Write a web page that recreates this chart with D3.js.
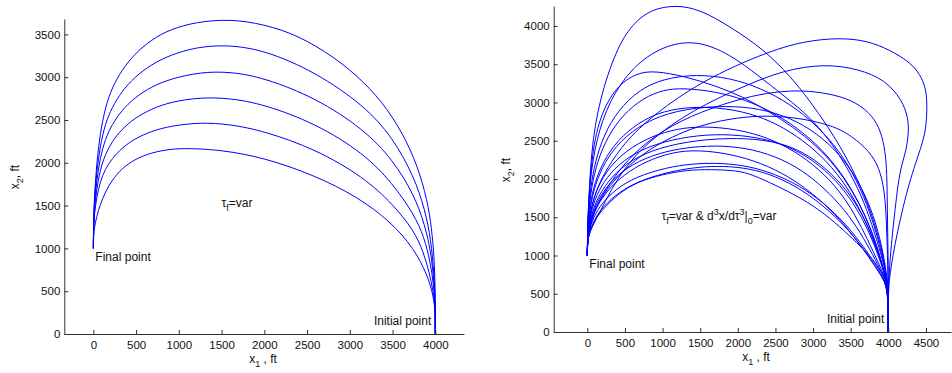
<!DOCTYPE html>
<html>
<head>
<meta charset="utf-8">
<script src="https://cdn.jsdelivr.net/npm/d3@7"></script>
<style>
  body { margin: 0; background: #fff; }
  svg { display: block; font-family: "Liberation Sans", Arial, sans-serif; }
  .tick text { font-size: 11.5px; fill: #111; }
  .lbl { font-size: 12px; fill: #111; }
</style>
</head>
<body>
<svg id="chart" width="952" height="373"></svg>
<script>
// tick values
const leftXTicks = [0, 500, 1000, 1500, 2000, 2500, 3000, 3500, 4000];
const leftYTicks = [0, 500, 1000, 1500, 2000, 2500, 3000, 3500];
const rightXTicks = [0, 500, 1000, 1500, 2000, 2500, 3000, 3500, 4000, 4500];
const rightYTicks = [0, 500, 1000, 1500, 2000, 2500, 3000, 3500, 4000];

// left panel: tau_f = var, six trajectories [x1, x2] in ft (final point -> initial point)
const leftCurve1 = [[0,1000],[2,1300],[14,1650],[40,2000],[80,2350],[140,2650],[220,2880],[330,3080],[480,3270],[680,3440],[900,3560],[1200,3645],[1600,3680],[1996,3618],[2386,3493],[2815,3240],[3166,2947],[3439,2637],[3673,2247],[3829,1857],[3926,1468],[3965,1157],[3993,806],[4000,420],[4000,0]];
const leftCurve2 = [[0,1000],[2,1300],[14,1600],[40,1900],[80,2200],[140,2460],[220,2650],[330,2830],[480,3000],[680,3150],[900,3260],[1200,3350],[1550,3380],[1996,3320],[2600,3060],[3166,2670],[3500,2300],[3751,1840],[3880,1450],[3950,1100],[3985,700],[4000,380],[4000,0]];
const leftCurve3 = [[0,1000],[2,1280],[14,1540],[40,1800],[80,2060],[140,2280],[220,2450],[330,2610],[480,2760],[680,2890],[900,2980],[1250,3060],[1600,3065],[1996,2994],[2600,2760],[3166,2390],[3500,2040],[3751,1630],[3880,1270],[3950,950],[3985,620],[4000,350],[4000,0]];
const leftCurve4 = [[0,1000],[2,1260],[14,1480],[40,1700],[80,1920],[140,2100],[220,2250],[330,2390],[480,2520],[680,2630],[900,2710],[1250,2765],[1600,2755],[1996,2683],[2600,2460],[3166,2110],[3500,1760],[3751,1400],[3870,1130],[3940,850],[3980,580],[4000,330],[4000,0]];
const leftCurve5 = [[0,1000],[2,1240],[14,1420],[40,1600],[80,1780],[140,1930],[220,2050],[330,2170],[480,2280],[680,2370],[900,2430],[1256,2473],[1600,2450],[1996,2371],[2600,2160],[3166,1830],[3500,1520],[3751,1210],[3860,960],[3930,720],[3975,500],[4000,310],[4000,0]];
const leftCurve6 = [[0,1000],[3,1200],[40,1380],[80,1510],[140,1660],[220,1800],[330,1930],[480,2040],[680,2120],[900,2160],[1099,2170],[1500,2150],[1996,2060],[2581,1857],[3089,1604],[3478,1312],[3751,1001],[3906,689],[3965,494],[4000,300],[4000,0]];

// right panel: tau_f = var & d3x/dtau3|0 = var
const rightCurve1 = [[0,1000],[3,1300],[10,1500],[49,2380],[159,3030],[381,3690],[600,4030],[850,4220],[1180,4275],[1500,4215],[1900,3990],[2350,3690],[2700,3340],[2950,3030],[3200,2680],[3400,2360],[3600,1980],[3750,1620],[3880,1220],[3960,850],[4000,550],[4000,0]];
const rightCurve2 = [[0,1000],[3,1300],[8,1450],[27,1940],[115,2510],[292,3030],[602,3470],[1000,3740],[1444,3820],[1900,3630],[2286,3340],[2650,3060],[2950,2815],[3200,2530],[3393,2250],[3600,1880],[3748,1510],[3880,1100],[3970,770],[4000,550],[4000,0]];
const rightCurve3 = [[0,1000],[3,1300],[10,1500],[49,2250],[159,2815],[381,3207],[650,3385],[900,3415],[1300,3340],[1700,3220],[2064,3076],[2400,2890],[2729,2684],[3050,2430],[3305,2160],[3520,1850],[3703,1510],[3850,1130],[3947,770],[4000,550],[4000,0]];
const rightCurve4 = [[0,1000],[3,1200],[25,1450],[70,1700],[140,1900],[250,2120],[514,2510],[957,2902],[1621,3337],[2507,3708],[3000,3820],[3450,3845],[3800,3785],[4102,3642],[4300,3510],[4420,3370],[4495,3200],[4515,3000],[4510,2800],[4490,2600],[4430,2400],[4360,2200],[4280,1950],[4200,1650],[4120,1300],[4060,1000],[4015,700],[4000,550],[4000,0]];
const rightCurve5 = [[0,1000],[3,1150],[15,1250],[60,1370],[159,1550],[425,2074],[824,2510],[1400,2902],[2064,3207],[2600,3420],[3150,3505],[3600,3440],[3960,3294],[4182,3033],[4265,2800],[4270,2600],[4240,2380],[4180,2200],[4130,1950],[4090,1600],[4050,1250],[4015,850],[4000,550],[4000,0]];
const rightCurve6 = [[0,1000],[3,1200],[20,1330],[70,1520],[160,1720],[320,1980],[600,2330],[1000,2640],[1500,2880],[2100,3070],[2500,3140],[2850,3160],[3200,3120],[3518,3033],[3750,2870],[3880,2680],[3950,2430],[3978,2150],[3985,1800],[3990,1400],[3997,1000],[4000,550],[4000,0]];
const rightCurve7 = [[0,1000],[3,1200],[10,1480],[40,1880],[105,2230],[220,2580],[410,2900],[680,3160],[1000,3310],[1450,3370],[1900,3320],[2300,3190],[2700,2980],[3050,2700],[3350,2370],[3580,1990],[3760,1560],[3890,1130],[3970,760],[4000,550],[4000,0]];
const rightCurve8 = [[0,1000],[3,1200],[10,1450],[42,1820],[110,2150],[230,2480],[420,2780],[680,3020],[950,3150],[1200,3190],[1600,3160],[2000,3070],[2400,2910],[2780,2680],[3120,2390],[3400,2050],[3620,1680],[3790,1290],[3910,930],[4000,550],[4000,0]];
const rightCurve9 = [[0,1000],[3,1200],[12,1400],[50,1720],[130,2000],[270,2290],[500,2560],[850,2790],[1300,2920],[1850,2960],[2300,2920],[2700,2800],[3050,2600],[3350,2330],[3590,2000],[3770,1620],[3890,1230],[3960,880],[4000,550],[4000,0]];
const rightCurve10 = [[0,1000],[3,1200],[12,1420],[48,1750],[120,2020],[250,2300],[460,2570],[780,2800],[1100,2910],[1500,2950],[1950,2910],[2350,2800],[2700,2620],[3030,2380],[3320,2080],[3550,1740],[3730,1380],[3870,1030],[3960,750],[4000,550],[4000,0]];
const rightCurve11 = [[0,1000],[3,1200],[15,1320],[60,1500],[150,1700],[300,1920],[500,2130],[850,2420],[1400,2680],[1900,2790],[2300,2830],[2750,2810],[3253,2706],[3518,2560],[3750,2360],[3880,2150],[3950,1850],[3975,1450],[3990,1000],[4000,550],[4000,0]];
const rightCurve12 = [[0,1000],[3,1200],[14,1380],[55,1660],[140,1900],[280,2140],[510,2370],[850,2560],[1200,2660],[1550,2690],[2000,2650],[2400,2540],[2750,2370],[3080,2130],[3350,1850],[3560,1530],[3730,1200],[3870,900],[3970,680],[4000,550],[4000,0]];
const rightCurve13 = [[0,1000],[3,1200],[15,1350],[60,1620],[150,1850],[300,2080],[550,2300],[900,2460],[1350,2560],[1800,2590],[2250,2550],[2650,2440],[3000,2250],[3300,1990],[3530,1700],[3710,1380],[3850,1050],[3950,760],[4000,550],[4000,0]];
const rightCurve14 = [[0,1000],[3,1200],[16,1330],[65,1580],[160,1800],[320,2030],[580,2250],[950,2410],[1450,2510],[2000,2540],[2450,2500],[2800,2390],[3100,2200],[3380,1940],[3600,1640],[3760,1320],[3880,1000],[3960,750],[4000,550],[4000,0]];
const rightCurve15 = [[0,1000],[3,1200],[18,1320],[70,1560],[170,1780],[340,2000],[600,2200],[950,2340],[1300,2410],[1700,2440],[2100,2410],[2500,2300],[2850,2120],[3150,1880],[3420,1600],[3630,1300],[3800,1000],[3920,760],[4000,550],[4000,0]];
const rightCurve16 = [[0,1000],[3,1200],[20,1300],[75,1530],[180,1740],[360,1950],[620,2150],[950,2300],[1300,2380],[1700,2360],[2100,2280],[2500,2130],[2850,1920],[3150,1680],[3420,1400],[3640,1120],[3810,880],[3930,700],[4000,550],[4000,0]];
const rightCurve17 = [[0,1000],[3,1200],[20,1300],[80,1500],[190,1680],[380,1870],[650,2030],[1050,2150],[1400,2200],[1700,2210],[2050,2185],[2400,2100],[2750,1950],[3050,1760],[3330,1520],[3570,1250],[3760,990],[3900,780],[4000,550],[4000,0]];
const rightCurve18 = [[0,1000],[3,1200],[25,1280],[90,1470],[210,1640],[420,1830],[700,1980],[1100,2100],[1500,2160],[1800,2170],[2150,2140],[2500,2040],[2850,1860],[3150,1640],[3420,1390],[3640,1130],[3800,900],[3930,700],[4000,550],[4000,0]];
const rightCurve19 = [[0,1000],[3,1200],[30,1300],[100,1480],[221,1617],[400,1800],[665,1965],[1000,2060],[1329,2118],[1650,2125],[1993,2110],[2185,2060],[2500,1920],[2851,1747],[3150,1550],[3429,1311],[3630,1120],[3783,963],[3900,800],[3960,700],[4000,550],[4000,0]];

const leftCurves = [leftCurve1, leftCurve2, leftCurve3, leftCurve4, leftCurve5, leftCurve6];
const rightCurves = [rightCurve1, rightCurve2, rightCurve3, rightCurve4, rightCurve5, rightCurve6, rightCurve7,
  rightCurve8, rightCurve9, rightCurve10, rightCurve11, rightCurve12, rightCurve13, rightCurve14, rightCurve15,
  rightCurve16, rightCurve17, rightCurve18, rightCurve19];

const svg = d3.select('#chart');

function drawPanel(p) {
  const x = d3.scaleLinear().domain(p.xDomain).range([p.left, p.right]);
  const y = d3.scaleLinear().domain(p.yDomain).range([p.bottom, p.top]);
  const g = svg.append('g');

  const line = d3.line()
    .x(d => x(d[0]))
    .y(d => y(d[1]))
    .curve(d3.curveBasis);

  g.selectAll('path.traj')
    .data(p.curves)
    .join('path')
    .attr('class', 'traj')
    .attr('fill', 'none')
    .attr('stroke', '#0000ff')
    .attr('stroke-width', 1)
    .attr('d', line);

  // axes, matlab style with inward ticks
  const xAxis = g.append('g')
    .attr('transform', `translate(0,${p.bottom})`)
    .call(d3.axisBottom(x).tickValues(p.xTicks).tickFormat(d3.format('d'))
      .tickSizeInner(-4).tickSizeOuter(0).tickPadding(7));
  const yAxis = g.append('g')
    .attr('transform', `translate(${p.left},0)`)
    .call(d3.axisLeft(y).tickValues(p.yTicks).tickFormat(d3.format('d'))
      .tickSizeInner(-4).tickSizeOuter(0).tickPadding(4));
  [xAxis, yAxis].forEach(a => {
    a.attr('font-family', null).attr('font-size', null);
    a.selectAll('path, line').attr('stroke', '#333');
  });

  // axis titles
  const xl = g.append('text').attr('class', 'lbl')
    .attr('x', p.xLabel[0]).attr('y', p.xLabel[1]).attr('text-anchor', 'middle');
  xl.append('tspan').text('x');
  xl.append('tspan').attr('font-size', '9px').attr('dy', 4).text('1');
  xl.append('tspan').attr('dy', -4).text(' , ft');

  const yl = g.append('text').attr('class', 'lbl')
    .attr('transform', `translate(${p.yLabel[0]},${p.yLabel[1]}) rotate(-90)`)
    .attr('text-anchor', 'middle');
  yl.append('tspan').text('x');
  yl.append('tspan').attr('font-size', '9px').attr('dy', 4).text('2');
  yl.append('tspan').attr('dy', -4).text(', ft');

  g.append('text').attr('class', 'lbl')
    .attr('x', x(0) + 2).attr('y', y(1000) + 13).text('Final point');
  g.append('text').attr('class', 'lbl')
    .attr('x', x(4000) - 4).attr('y', p.bottom - 9).attr('text-anchor', 'end').text('Initial point');

  const note = g.append('text').attr('class', 'lbl')
    .attr('x', p.note[0]).attr('y', p.note[1]);
  p.noteParts.forEach(s => {
    note.append('tspan').attr('dy', s.dy || 0).attr('font-size', s.small ? '9px' : null).text(s.t);
  });
}

drawPanel({
  left: 64.3, right: 464, top: 19, bottom: 334,
  xDomain: [-340, 4336], yDomain: [0, 3680],
  xTicks: leftXTicks, yTicks: leftYTicks,
  curves: leftCurves,
  xLabel: [263, 363], yLabel: [19, 177],
  note: [221.5, 207],
  noteParts: [{ t: 'τ' }, { t: 'f', small: true, dy: 4 }, { t: '=var', dy: -4 }]
});

drawPanel({
  left: 553.7, right: 951, top: 6, bottom: 332,
  xDomain: [-447, 4833], yDomain: [0, 4261],
  xTicks: rightXTicks, yTicks: rightYTicks,
  curves: rightCurves,
  xLabel: [756, 361], yLabel: [510, 170],
  note: [661.5, 220],
  noteParts: [{ t: 'τ' }, { t: 'f', small: true, dy: 4 }, { t: '=var & d', dy: -4 },
    { t: '3', small: true, dy: -5 }, { t: 'x/dτ', dy: 5 }, { t: '3', small: true, dy: -5 },
    { t: '|', dy: 5 }, { t: '0', small: true, dy: 4 }, { t: '=var', dy: -4 }]
});
</script>
</body>
</html>
